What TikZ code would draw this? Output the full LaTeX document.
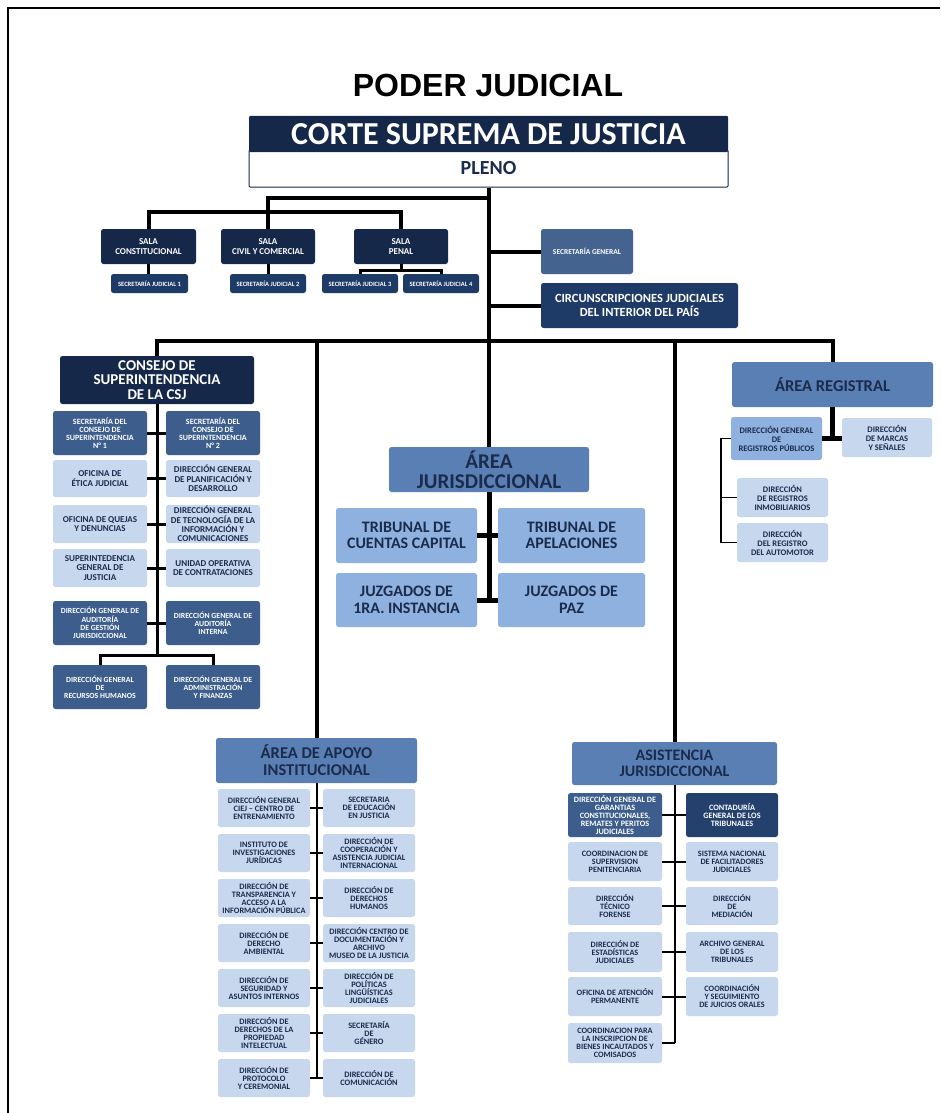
\documentclass[tikz,border=0pt]{standalone}
\usepackage{fontspec}
\setmainfont{Carlito}
\newfontfamily\titlefont{Liberation Sans}
\definecolor{cNavy}{HTML}{16284A}
\definecolor{cSj}{HTML}{1E3A66}
\definecolor{cMid}{HTML}{3D5E8C}
\definecolor{cSg}{HTML}{44638E}
\definecolor{cArea}{HTML}{5A7FB4}
\definecolor{cLm}{HTML}{8EB1DF}
\definecolor{cLight}{HTML}{C7D7EE}
\definecolor{cTxt}{HTML}{1A2B4C}
\newcommand\bx[7]{\node[#1,minimum width={#5-#3},minimum height={#6-#4}] (#2) at ({(#3+#5)/2},{(#4+#6)/2}) {#7};}
\newcommand\fs[2]{\bfseries\fontsize{#1}{#2}\selectfont}
\tikzset{
  bxs/.style={rounded corners=2.5pt, align=center, inner sep=0pt},
  navy/.style={bxs, fill=cNavy, text=white},
  sjb/.style={bxs, fill=cSj, text=white},
  mid/.style={bxs, fill=cMid, text=white},
  sgb/.style={bxs, fill=cSg, text=white},
  area/.style={bxs, fill=cArea, text=cTxt},
  lm/.style={bxs, fill=cLm, text=cTxt},
  light/.style={bxs, fill=cLight, text=cTxt},
  thick4/.style={line width=4pt},
  thick3/.style={line width=3pt},
  thick5/.style={line width=5pt},
  thin2/.style={line width=2pt},
  thin15/.style={line width=1.5pt},
}
\begin{document}
\begin{tikzpicture}[x=1pt,y=-1pt]
\useasboundingbox (0,0) rectangle (940,1113);
\fill[white] (0,0) rectangle (940,1113);
\draw[line width=1.5pt] (8,1113) -- (8,8) -- (940,8);

% title
\node[font=\titlefont\bfseries\fontsize{32}{36}\selectfont, inner sep=0pt] (title) at (488,85) {PODER JUDICIAL};

% corte suprema
\bx{bxs,draw=cNavy,line width=1pt,fill=white,text=cTxt,font=\fs{20}{22},rounded corners=1pt}{pleno}{249}{150}{728}{187}{PLENO}
\bx{navy,font=\fs{32}{34},rounded corners=1pt}{csj}{249}{116}{728}{152}{CORTE SUPREMA DE JUSTICIA}

% salas
\bx{navy,font=\fs{9}{10}}{sala1}{101}{229}{196}{264}{SALA\\CONSTITUCIONAL}
\bx{navy,font=\fs{9}{10}}{sala2}{221}{229}{315}{264}{SALA\\CIVIL Y COMERCIAL}
\bx{navy,font=\fs{9}{10}}{sala3}{354}{229}{448}{264}{SALA\\PENAL}
\bx{sjb,font=\fs{6.5}{7}}{sj1}{111}{274}{188}{293}{SECRETARÍA JUDICIAL 1}
\bx{sjb,font=\fs{6.5}{7}}{sj2}{230}{274}{306}{293}{SECRETARÍA JUDICIAL 2}
\bx{sjb,font=\fs{6.5}{7}}{sj3}{322}{274}{398}{293}{SECRETARÍA JUDICIAL 3}
\bx{sjb,font=\fs{6.5}{7}}{sj4}{403}{274}{479}{293}{SECRETARÍA JUDICIAL 4}

\bx{sgb,font=\fs{7.5}{8}}{sg}{541}{229}{633}{274}{SECRETARÍA GENERAL}
\bx{sjb,font=\fs{12.5}{13.5}}{circ}{541}{283}{738}{328}{CIRCUNSCRIPCIONES JUDICIALES\\DEL INTERIOR DEL PAÍS}

% consejo
\bx{navy,font=\fs{15}{14.5}}{consejo}{60}{356}{254}{404}{CONSEJO DE\\SUPERINTENDENCIA\\DE LA CSJ}
\bx{mid,font=\fs{8}{8.2}}{c1l}{53}{411}{147}{455}{SECRETARÍA DEL\\CONSEJO DE\\SUPERINTENDENCIA\\N° 1}
\bx{mid,font=\fs{8}{8.2}}{c1r}{166}{411}{260}{455}{SECRETARÍA DEL\\CONSEJO DE\\SUPERINTENDENCIA\\N° 2}
\bx{light,font=\fs{9}{9.5}}{c2l}{53}{460}{147}{497}{OFICINA DE\\ÉTICA JUDICIAL}
\bx{light,font=\fs{9}{9.5}}{c2r}{166}{460}{260}{497}{DIRECCIÓN GENERAL\\DE PLANIFICACIÓN Y\\DESARROLLO}
\bx{light,font=\fs{9}{9.5}}{c3l}{53}{505}{147}{543}{OFICINA DE QUEJAS\\Y DENUNCIAS}
\bx{light,font=\fs{9}{9.3}}{c3r}{166}{505}{260}{543}{DIRECCIÓN GENERAL\\DE TECNOLOGÍA DE LA\\INFORMACIÓN Y\\COMUNICACIONES}
\bx{light,font=\fs{9}{9.5}}{c4l}{53}{549}{147}{587}{SUPERINTEDENCIA\\GENERAL DE\\JUSTICIA}
\bx{light,font=\fs{9}{9.5}}{c4r}{166}{549}{260}{587}{UNIDAD OPERATIVA\\DE CONTRATACIONES}
\bx{mid,font=\fs{7.8}{8.2}}{c5l}{53}{601}{147}{645}{DIRECCIÓN GENERAL DE\\AUDITORÍA\\DE GESTIÓN\\JURISDICCIONAL}
\bx{mid,font=\fs{7.8}{8.2}}{c5r}{166}{601}{260}{645}{DIRECCIÓN GENERAL DE\\AUDITORÍA\\INTERNA}
\bx{mid,font=\fs{7.8}{8.2}}{c6l}{53}{665}{147}{709}{DIRECCIÓN GENERAL\\DE\\RECURSOS HUMANOS}
\bx{mid,font=\fs{7.8}{8.2}}{c6r}{166}{665}{260}{709}{DIRECCIÓN GENERAL DE\\ADMINISTRACIÓN\\Y FINANZAS}

% registral
\bx{area,font=\fs{16.5}{18}}{reg}{732}{362}{933}{407}{ÁREA REGISTRAL}
\bx{lm,font=\fs{8.5}{9}}{dgrp}{731}{417}{822}{460}{DIRECCIÓN GENERAL\\DE\\REGISTROS PÚBLICOS}
\bx{light,font=\fs{8.5}{9}}{marcas}{842}{418}{932}{457}{DIRECCIÓN\\DE MARCAS\\Y SEÑALES}
\bx{light,font=\fs{8.5}{9}}{inmob}{737}{478}{828}{517}{DIRECCIÓN\\DE REGISTROS\\INMOBILIARIOS}
\bx{light,font=\fs{8.5}{9}}{auto}{737}{523}{828}{562}{DIRECCIÓN\\DEL REGISTRO\\DEL AUTOMOTOR}

% jurisdiccional
\bx{area,font=\fs{21}{20}}{jur}{389}{447}{589}{492}{ÁREA\\JURISDICCIONAL}
\bx{lm,font=\fs{16}{16.7}}{tcc}{336}{508}{477}{563}{TRIBUNAL DE\\CUENTAS CAPITAL}
\bx{lm,font=\fs{16}{16.7}}{tap}{498}{508}{645}{563}{TRIBUNAL DE\\APELACIONES}
\bx{lm,font=\fs{16}{16.7}}{jpi}{336}{573}{477}{627}{JUZGADOS DE\\1RA. INSTANCIA}
\bx{lm,font=\fs{16}{16.7}}{jpaz}{498}{573}{645}{627}{JUZGADOS DE\\PAZ}

% apoyo institucional
\bx{area,font=\fs{16.5}{17}}{apoyo}{216}{738}{417}{783}{ÁREA DE APOYO\\INSTITUCIONAL}
\tikzset{ap/.style={light,font=\fs{8.3}{8.2}}}
\bx{ap}{a1l}{218}{789}{310}{827}{DIRECCIÓN GENERAL\\CIEJ – CENTRO DE\\ENTRENAMIENTO}
\bx{ap}{a1r}{323}{789}{415}{827}{SECRETARIA\\DE EDUCACIÓN\\EN JUSTICIA}
\bx{ap}{a2l}{218}{834}{310}{872}{INSTITUTO DE\\INVESTIGACIONES\\JURÍDICAS}
\bx{ap}{a2r}{323}{834}{415}{872}{DIRECCIÓN DE\\COOPERACIÓN Y\\ASISTENCIA JUDICIAL\\INTERNACIONAL}
\bx{ap}{a3l}{218}{879}{310}{917}{DIRECCIÓN DE\\TRANSPARENCIA Y\\ACCESO A LA\\INFORMACIÓN PÚBLICA}
\bx{ap}{a3r}{323}{879}{415}{917}{DIRECCIÓN DE\\DERECHOS\\HUMANOS}
\bx{ap}{a4l}{218}{924}{310}{962}{DIRECCIÓN DE\\DERECHO\\AMBIENTAL}
\bx{ap}{a4r}{323}{924}{415}{962}{DIRECCIÓN CENTRO DE\\DOCUMENTACIÓN Y\\ARCHIVO\\MUSEO DE LA JUSTICIA}
\bx{ap}{a5l}{218}{969}{310}{1007}{DIRECCIÓN DE\\SEGURIDAD Y\\ASUNTOS INTERNOS}
\bx{ap}{a5r}{323}{969}{415}{1007}{DIRECCIÓN DE\\POLÍTICAS\\LINGÜÍSTICAS\\JUDICIALES}
\bx{ap}{a6l}{218}{1014}{310}{1052}{DIRECCIÓN DE\\DERECHOS DE LA\\PROPIEDAD\\INTELECTUAL}
\bx{ap}{a6r}{323}{1014}{415}{1052}{SECRETARÍA\\DE\\GÉNERO}
\bx{ap}{a7l}{218}{1059}{310}{1097}{DIRECCIÓN DE\\PROTOCOLO\\Y CEREMONIAL}
\bx{ap}{a7r}{323}{1059}{415}{1097}{DIRECCIÓN DE\\COMUNICACIÓN}

% asistencia jurisdiccional
\bx{area,font=\fs{16}{15.5}}{asis}{572}{742}{777}{785}{ASISTENCIA\\JURISDICCIONAL}
\tikzset{as/.style={light,font=\fs{8.2}{8}}}
\bx{mid,font=\fs{8.2}{8}}{s1l}{568}{793}{662}{837}{DIRECCIÓN GENERAL DE\\GARANTIAS\\CONSTITUCIONALES,\\REMATES Y PERITOS\\JUDICIALES}
\bx{bxs,fill=cSj!80!cMid,text=white,font=\fs{8.2}{8}}{s1r}{686}{793}{778}{837}{CONTADURÍA\\GENERAL DE LOS\\TRIBUNALES}
\bx{as}{s2l}{568}{842}{662}{881}{COORDINACION DE\\SUPERVISION\\PENITENCIARIA}
\bx{as}{s2r}{686}{842}{778}{881}{SISTEMA NACIONAL\\DE FACILITADORES\\JUDICIALES}
\bx{as}{s3l}{568}{887}{662}{925}{DIRECCIÓN\\TÉCNICO\\FORENSE}
\bx{as}{s3r}{686}{887}{778}{925}{DIRECCIÓN\\DE\\MEDIACIÓN}
\bx{as}{s4l}{568}{932}{662}{972}{DIRECCIÓN DE\\ESTADÍSTICAS\\JUDICIALES}
\bx{as}{s4r}{686}{932}{778}{972}{ARCHIVO GENERAL\\DE LOS\\TRIBUNALES}
\bx{as}{s5l}{568}{977}{662}{1016}{OFICINA DE ATENCIÓN\\PERMANENTE}
\bx{as}{s5r}{686}{977}{778}{1016}{COORDINACIÓN\\Y SEGUIMIENTO\\DE JUICIOS ORALES}
\bx{as}{s6l}{568}{1023}{662}{1063}{COORDINACION PARA\\LA INSCRIPCION DE\\BIENES INCAUTADOS Y\\COMISADOS}

% ---- connectors ----
\coordinate (busY) at (0,341);
\coordinate (j1) at (0,198);
\coordinate (j2) at (0,212);
\coordinate (j3) at (0,270);
\coordinate (cs) at (0,655);
\coordinate (rt) at (0,438);
\coordinate (rb) at (721,0);

\draw[thick4] (pleno.south) -- (pleno.south |- busY);
\draw[thick4] (consejo.north) -- (consejo.north |- busY) -- (reg.north |- busY) -- (reg.north);
\draw[thick4] (apoyo.north |- busY) -- (apoyo.north);
\draw[thick4] (jur.north |- busY) -- (jur.north);
\draw[thick4] (asis.north |- busY) -- (asis.north);

\draw[thick4] (pleno.south |- j1) -- (sala2.north |- j1) -- (sala2.north);
\draw[thick4] (sala1.north) -- (sala1.north |- j2) -- (sala3.north |- j2) -- (sala3.north);
\draw[thick3] (sala1.south) -- (sala1.south |- sj1.north);
\draw[thick3] (sala2.south) -- (sala2.south |- sj2.north);
\draw[thick3] (sala3.south) -- (sala3.south |- j3);
\draw[thick3] (sj3.north) -- (sj3.north |- j3) -- (sj4.north |- j3) -- (sj4.north);

\draw[thick4] (sg.west -| pleno.south) -- (sg.west);
\draw[thick4] (circ.west -| pleno.south) -- (circ.west);

% consejo
\draw[thick3] (consejo.south) -- (consejo.south |- cs);
\foreach \i in {1,...,5}{\draw[thick3] (c\i l.east) -- (c\i r.west);}
\draw[thick3] (c6l.north) -- (c6l.north |- cs) -- (c6r.north |- cs) -- (c6r.north);

% registral
\draw[thick5] (reg.south) -- (reg.south |- rt);
\draw[thick5] (dgrp.east |- rt) -- (marcas.west |- rt);
\draw[thin15] (dgrp.west) -- (dgrp.west -| rb) |- (auto.west);
\draw[thin15] (inmob.west -| rb) -- (inmob.west);

% jurisdiccional
\draw[thick5] (jur.south) -- (jur.south |- jpi.east);
\draw[thick5] (tcc.east) -- (tap.west);
\draw[thick5] (jpi.east) -- (jpaz.west);

% apoyo
\draw[thin2] (apoyo.south) -- (apoyo.south |- a7l.east);
\foreach \i in {1,...,7}{\draw[thin2] (a\i l.east) -- (a\i r.west);}

% asistencia
\draw[thin2] (asis.south) -- (asis.south |- s6l.east);
\foreach \i in {1,...,5}{\draw[thin2] (s\i l.east) -- (s\i r.west);}
\draw[thin2] (s6l.east) -- (s6l.east -| asis.south);
\end{tikzpicture}
\end{document}
